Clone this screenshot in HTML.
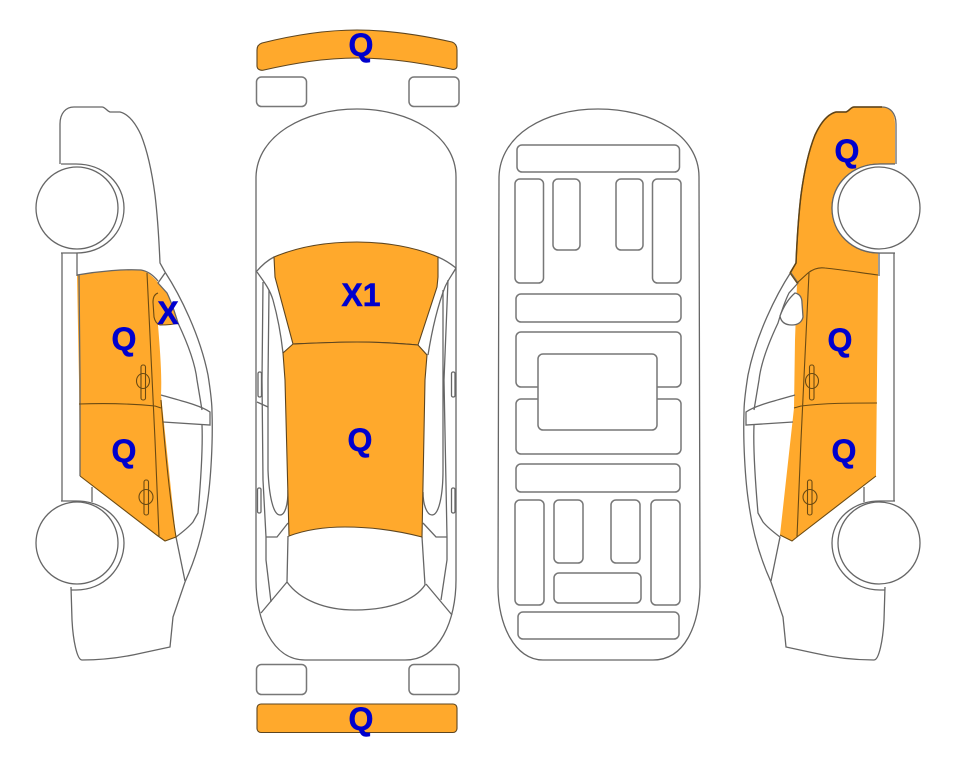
<!DOCTYPE html>
<html><head><meta charset="utf-8"><style>
html,body{margin:0;padding:0;background:#fff}
svg{display:block}
text{font-family:"Liberation Sans",sans-serif;font-weight:bold;font-size:32px;fill:#0000cd;stroke:#0000cd;stroke-width:.5;text-anchor:middle}
.l{fill:none;stroke:#666;stroke-width:1.3}
.w{fill:#fff;stroke:#666;stroke-width:1.3}
.r{fill:#fff;stroke:#777;stroke-width:1.5}
.o{fill:#ffa92c;stroke:#5d4520;stroke-width:1.1}
.d{fill:none;stroke:#6b4a12;stroke-width:1.1}
</style></head><body>
<svg width="963" height="768" viewBox="0 0 963 768" xmlns="http://www.w3.org/2000/svg">
<defs>
<g id="carlines">
  <path class="l" d="M60 164V124C60 113 66 107 74 107L102 107C105 107 107 111 110 112C113 112 116 112 120 112C128 114 135 122 141 135C149 155 153 180 155 195C158 220 159 240 160 263L165 272C180 295 200 335 208 375C210 388 212 400 212 412C213 440 211 480 207 505C203 535 195 560 185 582L173 617L170 647L142 653C125 657 105 660 82 660C77 660 73 640 72 620L71 587"/>
  <path class="l" d="M61 164H76C104 164 124 184 124 208C124 233 104 253 76 253H61"/>
  <path class="l" d="M62 253V501M77 253V276M92 487V502"/>
  <path class="l" d="M61 501H76C104 501 124 520 124 543C124 568 104 590 76 590H71"/>
  <path class="l" d="M165 273L158 283L167 293C172 303 175 313 178 323C187 342 195 362 197 380L202 410M202 425C203 450 200 490 198 513L193 522C188 528 180 534 176 537L185 581"/>
  <path class="l" d="M161 395C178 400 200 405 210 412V425L163 422"/>
</g>
</defs>

<!-- left car -->
<path class="o" style="stroke:none" d="M77 275C100 271 125 269 141 270C150 272 158 282 167 293L179 324L158 325C160 350 162 375 161 395L176 537L165 541L158 536L80 476L79 380Z"/>
<use href="#carlines"/>
<path class="l" d="M77 275C100 271 125 269 141 270C148 271 153 275 158 281M80 476V380L79 275"/>
<path class="d" d="M80 476L158 536L165 541L176 537C170 500 165 450 161 400M147 273L152 377L155 440L159 536M79 404C110 403 135 404 155 406L161 408"/>
<path class="d" d="M158 293C155 294 153 297 153 302L154 317C155 322 157 324 160 325C165 325 172 325 178 323"/>
<rect class="d" x="141" y="365" width="4.500" height="35" rx="2"/>
<ellipse class="d" cx="143" cy="381" rx="6.500" ry="7.500"/>
<rect class="d" x="144" y="480" width="4.500" height="35" rx="2"/>
<ellipse class="d" cx="146" cy="497" rx="7" ry="7.500"/>
<circle class="w" cx="77" cy="208" r="41"/>
<circle class="w" cx="77" cy="543" r="41"/>

<!-- right car -->
<path class="o" style="stroke:none" d="M895 163V124C895 113 890 107 882 107L854 107C851 107 849 111 846 112C843 112 840 112 836 112C828 114 821 122 815 135C807 155 803 180 801 195C798 220 797 240 796 263L790 273L797 283L795 340L794 408L780 535L792 541L797 537L876 476L878 275V240H895Z"/>
<g transform="matrix(-1 0 0 1 956 0)"><use href="#carlines"/></g>
<path fill="none" stroke="#5f4315" stroke-width="1.500" d="M882 107L854 107C851 107 849 111 846 112C843 112 840 112 836 112C828 114 821 122 815 135C807 155 803 180 801 195C798 220 797 240 796 263L790 273"/>
<path class="d" d="M790 273L797 283L808 273C813 269 818 267 825 268C845 270 862 273 878 275M809 273L804 377L801 440L797 537L792 541L780 535M797 537L876 476M794 408L801 406C825 403 850 403 877 403"/>
<path fill="#fff" stroke="#666" stroke-width="1.300" d="M795 293C800 294 802 298 802 303L803 317C802 322 798 325 792 325C785 325 781 322 780 316C783 308 788 299 795 293Z"/>
<rect class="d" x="809.500" y="365" width="4.500" height="35" rx="2"/>
<ellipse class="d" cx="812" cy="381" rx="6.500" ry="7.500"/>
<rect class="d" x="807.500" y="480" width="4.500" height="35" rx="2"/>
<ellipse class="d" cx="810" cy="497" rx="7" ry="7.500"/>
<path class="w" d="M895 164H880C852 164 832 184 832 208C832 233 852 253 880 253H895Z" style="stroke:none"/>
<path class="l" d="M895 164H880C852 164 832 184 832 208C832 233 852 253 880 253H895"/>
<circle class="w" cx="879" cy="208" r="41"/>
<circle class="w" cx="879" cy="543" r="41"/>

<!-- top view -->
<path class="l" d="M256 272V177C257 135 305 109 357 109C409 109 456 135 456 177V580C456 620 440 660 405 660H305C272 660 256 620 256 580Z"/>
<path class="l" d="M256 272C262 265 268 260 274 257M438 257C445 260 451 264 456 268"/>
<path class="l" d="M257 272C265 283 270 290 273 300C278 318 281 335 283 353M456 268C452 275 448 280 445 287C438 305 432 330 428 355"/>
<path class="l" d="M263 282L262 380L263 480L266 537V560L271 602M269 290L268 380V470C269 495 273 515 280 515C285 515 288 505 288 490"/>
<path class="l" d="M448 280L444 380L447 537V560L441 600M443 290V470C443 495 439 515 432 515C427 515 423 505 423 492"/>
<path class="l" d="M257 402L268 407"/>
<path class="l" d="M266 537H277L288 523M447 537H436L423 523"/>
<path class="l" d="M288 536L287 582C300 600 325 610 355 610C390 610 415 600 425 585L422 537M287 582L261 613M426 584L452 615"/>
<rect class="l" x="258" y="372" width="3.500" height="25" rx="1.500"/>
<rect class="l" x="451.500" y="372" width="3.500" height="25" rx="1.500"/>
<rect class="l" x="257.500" y="488" width="3.500" height="25" rx="1.500"/>
<rect class="l" x="451.500" y="488" width="3.500" height="25" rx="1.500"/>
<path class="o" d="M274 257C300 246 330 242 357 242C385 242 415 247 438 257V277L437 287L418 345C395 343 375 342 357 342C335 342 315 343 293 344L275 277Z"/>
<path class="o" d="M293 344C315 343 335 342 357 342C375 342 395 343 418 345L427 355L425 380L422 537C395 530 370 527 345 527C325 527 305 530 289 536L285 380L283 353Z"/>

<!-- bumpers and mirrors -->
<path class="o" d="M257 50C257 46 259 44 262 43C290 36 325 30 357 30C390 30 425 36 452 42C455 43 457 45 457 50V66C457 69 454 70 451 69C420 63 390 58 357 58C325 58 295 63 264 70C260 71 257 69 257 66Z"/>
<rect class="r" x="256.500" y="77" width="50" height="29.500" rx="5"/>
<rect class="r" x="409" y="77" width="50" height="29.500" rx="5"/>
<rect class="r" x="256.500" y="664.500" width="50" height="30" rx="5"/>
<rect class="r" x="409" y="664.500" width="50" height="30" rx="5"/>
<rect class="o" x="257" y="704" width="200" height="28.500" rx="4"/>

<!-- underbody -->
<path class="l" d="M499 177C500 135 545 109 598 109C652 109 699 135 699 177L700 587C699 625 685 660 653 660H543C515 660 498 625 498 587Z"/>
<rect class="r" x="517" y="145" width="162.500" height="27" rx="5"/>
<rect class="r" x="515" y="179" width="28.500" height="104" rx="5"/>
<rect class="r" x="553" y="179" width="27" height="71" rx="5"/>
<rect class="r" x="616" y="179" width="27" height="71" rx="5"/>
<rect class="r" x="652.500" y="179" width="28.500" height="104" rx="5"/>
<rect class="r" x="516" y="294" width="165" height="28" rx="5"/>
<rect class="r" x="516" y="332" width="165" height="55" rx="5"/>
<rect class="r" x="516" y="399" width="165" height="55" rx="5"/>
<rect class="r" x="538" y="354" width="119" height="76" rx="5"/>
<rect class="r" x="516" y="464" width="164" height="28" rx="5"/>
<rect class="r" x="515" y="500" width="29" height="105" rx="5"/>
<rect class="r" x="554" y="500" width="29" height="63" rx="5"/>
<rect class="r" x="611" y="500" width="29" height="63" rx="5"/>
<rect class="r" x="651" y="500" width="29" height="105" rx="5"/>
<rect class="r" x="554" y="573" width="87" height="30" rx="5"/>
<rect class="r" x="518" y="612" width="161" height="27" rx="5"/>

<!-- labels -->
<text x="361" y="56">Q</text>
<text x="361" y="730">Q</text>
<text x="361" y="306">X1</text>
<text x="360" y="451">Q</text>
<text x="124" y="350">Q</text>
<text x="124" y="462">Q</text>
<text x="168" y="324">X</text>
<text x="847" y="162">Q</text>
<text x="840" y="351">Q</text>
<text x="844" y="462">Q</text>
</svg>
</body></html>
